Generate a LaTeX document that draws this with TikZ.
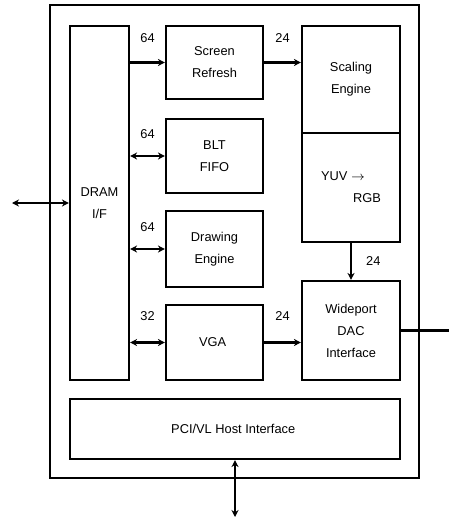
\documentclass[tikz,border=0pt]{standalone}
\usepackage{fontspec}
\setmainfont{Liberation Sans}
\usetikzlibrary{arrows.meta, positioning}

\begin{document}
\begin{tikzpicture}[
    x=0.02cm, y=-0.02cm,
    bloco/.style={
        draw,
        line width=1.2pt,
        align=center,
        inner sep=0pt,
        font=\fontsize{7.3}{12.5}\selectfont
    },
    seta/.style={
        ->,
        >={Stealth[length=4pt, width=4pt]},
        line width=1.3pt
    },
    setadupla/.style={
        seta,
        <->
    },
    rotulo/.style={
        font=\fontsize{7.3}{9}\selectfont,
        inner sep=0pt
    }
]
\useasboundingbox (0,0) rectangle (449,517);

% Placa
\node[draw, line width=1.5pt, minimum width=7.38cm, minimum height=9.46cm] (placa) at (234.5,241.5) {};

% Interface DRAM
\node[bloco, minimum width=1.18cm, minimum height=7.08cm] (dram) at (99.5,203)
{
    DRAM\\
    I/F
};

% Blocos do meio
\node[bloco, minimum width=1.94cm, minimum height=1.46cm] (screen) at (214.5,62.5)
{
    Screen\\
    Refresh
};
\node[bloco, minimum width=1.94cm, minimum height=1.48cm] (blt) at (214.5,156)
{
    BLT\\
    FIFO
};
\node[bloco, minimum width=1.94cm, minimum height=1.52cm] (drawing) at (214.5,249)
{
    Drawing\\
    Engine
};
\node[bloco, minimum width=1.94cm, minimum height=1.5cm] (vga) at (214.5,342.5)
{
    VGA
};

% Blocos da direita
\node[bloco, minimum width=1.96cm, minimum height=2.14cm] (scaling) at (351,79.5)
{
    Scaling\\
    Engine
};
\node[bloco, minimum width=1.96cm, minimum height=2.18cm, align=left] (yuv) at (351,187.5)
{
    YUV $\rightarrow$\\
    \hspace*{2.5em}RGB
};
\node[bloco, minimum width=1.96cm, minimum height=1.98cm] (dac) at (351,330.5)
{
    Wideport\\
    DAC\\
    Interface
};

% Host
\node[bloco, minimum width=6.6cm, minimum height=1.2cm] (pci) at (235,429)
{
    PCI/VL Host Interface
};

% Pontas externas
\coordinate (memoria) at (12,203);
\coordinate (monitor) at (449,330.5);
\coordinate (barramento) at (235,517);

% Setas
\draw[seta] (screen.west -| dram.east) -- node[rotulo, above=3.7mm]{64} (screen.west);
\draw[setadupla] (blt.west -| dram.east) -- node[rotulo, above=3.3mm]{64} (blt.west);
\draw[setadupla] (drawing.west -| dram.east) -- node[rotulo, above=3.3mm]{64} (drawing.west);
\draw[setadupla] (vga.west -| dram.east) -- node[rotulo, above=4.2mm]{32} (vga.west);
\draw[seta] (screen.east) -- node[rotulo, above=3.7mm]{24} (screen.east -| scaling.west);
\draw[seta] (vga.east) -- node[rotulo, above=4.2mm]{24} (vga.east -| dac.west);
\draw[seta] (yuv.south) -- node[rotulo, right=2.8mm]{24} (dac.north);
\draw[line width=1.3pt] (dac.east) -- (monitor);
\draw[setadupla] (memoria) -- (dram.west);
\draw[setadupla] (pci.south) -- (barramento);

\end{tikzpicture}
\end{document}
